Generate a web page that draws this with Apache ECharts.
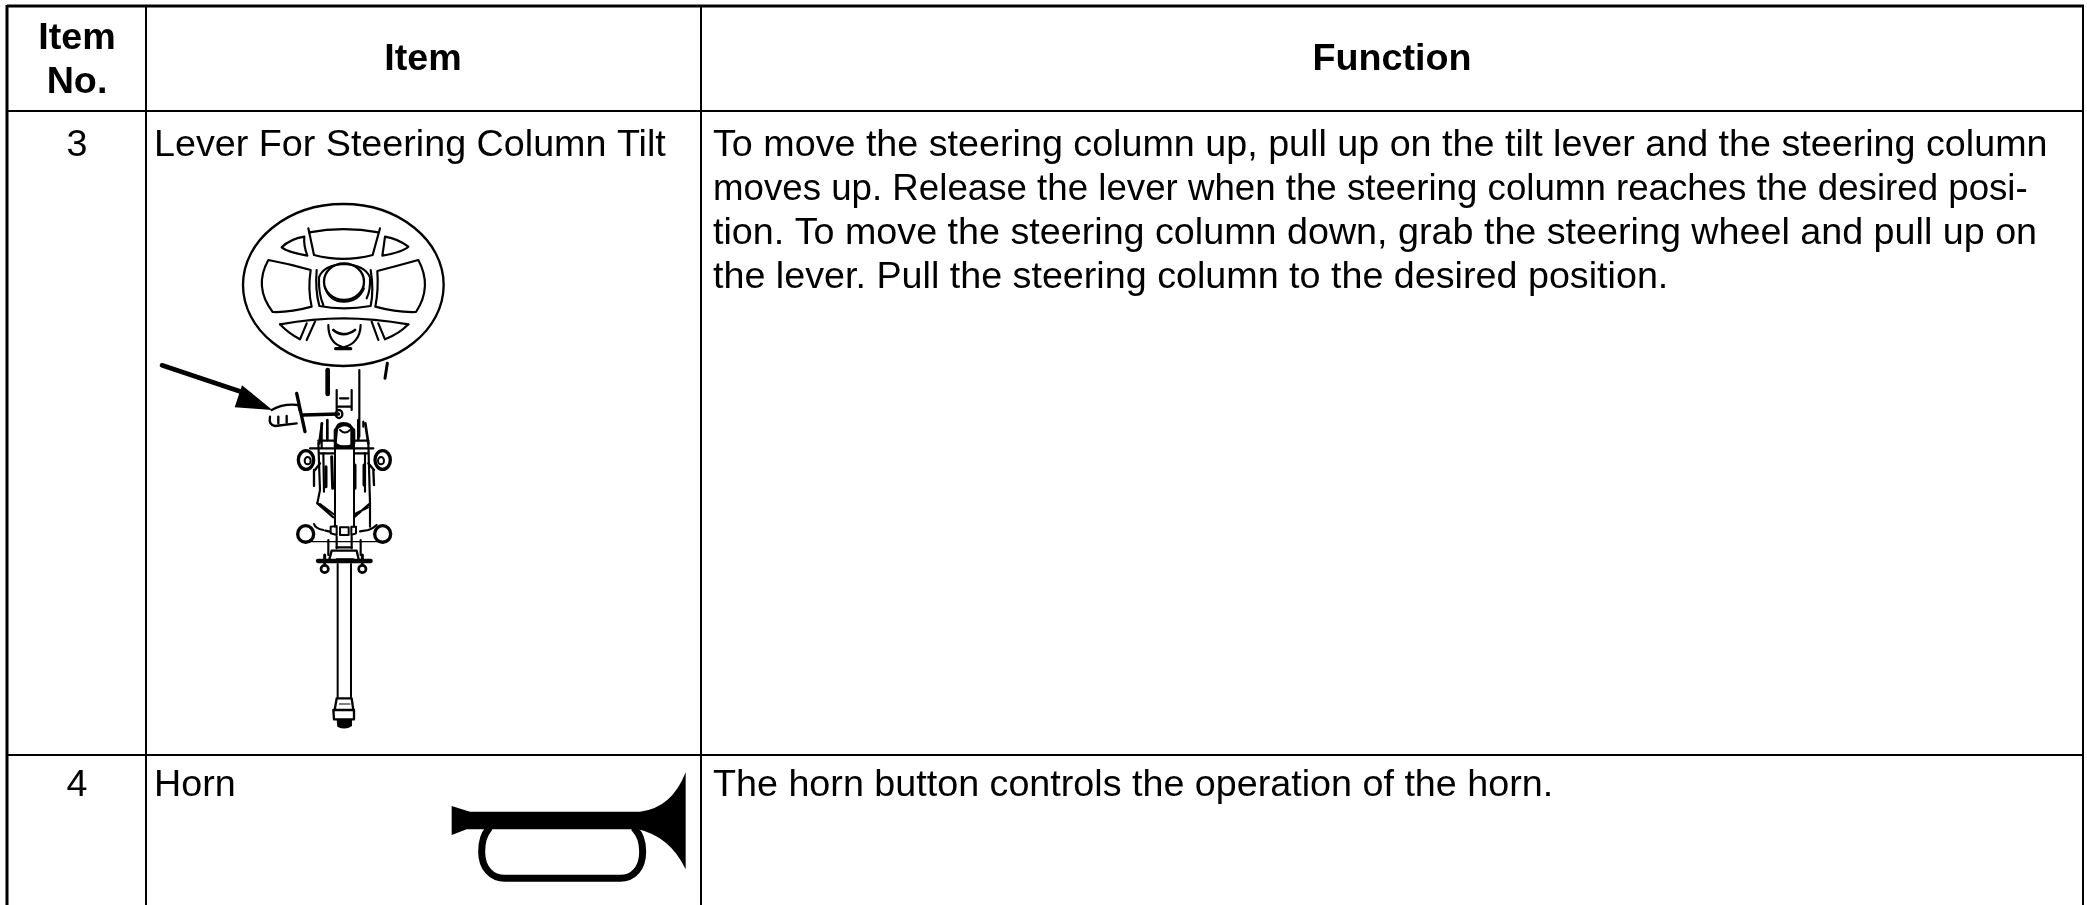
<!DOCTYPE html>
<html><head><meta charset="utf-8">
<style>html,body{margin:0;padding:0;background:#fff}#c{width:2087px;height:905px}</style>
<script src="https://cdn.jsdelivr.net/npm/echarts@6/dist/echarts.min.js"></script>
</head><body><div id="c"></div>
<script>
const headers = [["Item", "No."], ["Item"], ["Function"]];
const itemNos = ["3", "4"];
const itemNames = ["Lever For Steering Column Tilt", "Horn"];
const functionRow1 = [
  "To move the steering column up, pull up on the tilt lever and the steering column",
  "moves up. Release the lever when the steering column reaches the desired posi-",
  "tion. To move the steering column down, grab the steering wheel and pull up on",
  "the lever. Pull the steering column to the desired position."
];
const functionRow2 = ["The horn button controls the operation of the horn."];
const FONT = '"Liberation Sans", Arial, sans-serif';
const FS = 37.7;
const LINE_FIT = [1, 0.973, 1, 1];

function txt(s, x, y, align, bold, sx) {
  return {type:'text', x, y, scaleX:sx||1, silent:true, style:{text:s, fill:'#000', font:(bold?'bold ':'')+FS+'px '+FONT, textAlign:align, verticalAlign:'middle'}};
}
function ln(x1,y1,x2,y2,w){
  return {type:'line', silent:true, shape:{x1,y1,x2,y2}, style:{stroke:'#000', lineWidth:w}};
}
function p(d,w){ return {type:'path', silent:true, shape:{pathData:d}, style:{fill:null, stroke:'#000', lineWidth:w||6.5, lineJoin:'round', lineCap:'round'}}; }
function f(d){ return {type:'path', silent:true, shape:{pathData:d}, style:{fill:'#000', stroke:null}}; }
function el(cx,cy,rx,ry,w){ return {type:'ellipse', silent:true, shape:{cx,cy,rx,ry}, style:{fill:null, stroke:'#000', lineWidth:w||6.5}}; }
function group(x,y,children){ return {type:'group', x, y, scaleX:1/3, scaleY:1/3, silent:true, children}; }

const wheel = group(140,190,[
  el(610,285,301,243,7),
  p('M505,115 L522,195 Q610,218 698,195 L720,115'),
  p('M508,127 Q610,108 716,127'),
  p('M493,140 Q450,147 425,172 Q440,185 502,197 Q490,165 493,140 Z'),
  p('M735,140 Q775,147 805,170 Q790,185 727,197 Q732,165 735,140 Z'),
  p('M385,210 Q450,222 512,240 Q503,300 515,350 Q450,368 398,366 Q340,290 385,210 Z'),
  p('M835,210 Q770,228 712,243 Q716,300 706,350 Q770,368 828,366 Q878,290 835,210 Z'),
  el(612,275,60,55,7),
  p('M556,295 Q570,335 612,335 Q655,335 672,295',6),
  p('M537,262 Q550,225 612,222 Q675,225 690,262 Q692,300 680,325'),
  p('M537,262 Q535,310 550,345'),
  p('M530,240 Q525,300 538,348 Q610,362 692,348 Q702,300 692,240'),
  p('M420,403 Q520,385 610,385 Q700,385 805,403'),
  p('M420,403 Q445,430 480,448 L500,400'),
  p('M805,403 Q780,430 735,448 L715,400'),
  p('M500,450 L525,395'),
  p('M715,450 L695,395'),
  p('M565,405 Q565,460 610,472 Q660,460 662,405'),
  p('M580,420 Q610,445 645,420',8),
  p('M587,476 L632,476',10),
  p('M658,540 L658,740'),
  p('M563,540 L563,612',14),
  p('M742,520 L735,565',9),
  p('M590,600 L590,660 M635,600 L635,660 M600,625 L625,625 M595,650 L632,650'),
  p('M66,526 L330,614',14),
  f('M397,660 L306,586 L284,652 Z'),
  p('M395,660 Q430,640 475,645 L480,665 M390,680 Q385,705 405,708 L470,700',7),
  p('M470,610 L495,725',10),
  p('M490,675 L595,672',11),
  p('M415,680 L415,700 M440,678 L440,698',7),
  el(597,672,10,12,7),
  p('M590,720 Q590,700 610,700 Q635,700 635,720 L635,770 L585,770 Z',8),
  p('M545,700 L545,775 M670,695 L670,710 M510,775 L700,775')
]);

const column = group(240,420,[
  p('M246,10 L238,70 M376,10 L385,70 M262,0 L262,60 M355,0 L355,60',8),
  p('M285,30 Q315,0 342,30 L342,70 Q315,95 285,70 Z',8),
  p('M300,30 Q315,45 330,30',6),
  p('M235,62 L285,62 M342,62 L385,62 M238,100 L285,100 M342,100 L385,100'),
  p('M235,68 L240,210 L232,250 M385,68 L390,250 M390,250 L390,320 M250,100 L252,215 M375,100 L375,215'),
  p('M285,70 L285,320 M342,70 L342,320',6),
  el(198,120,23,28,10), el(428,120,23,28,10),
  el(203,122,9,11,6), el(423,122,9,11,6),
  el(197,342,24,25,10), el(428,342,24,25,10),
  p('M180,360 Q197,372 214,360 M411,360 Q428,372 445,360',7),
  p('M232,250 L280,292 M240,252 L280,282 M390,250 L342,292 M384,262 L345,282'),
  p('M258,140 L258,200 M275,110 L278,205 M345,135 L345,205 M372,135 L372,195',9),
  p('M222,150 L222,198 M400,150 L402,195 M240,130 L225,150 M385,130 L402,150',7),
  p('M222,312 Q226,326 250,330 M256,332 L270,335 M360,334 L385,330 Q400,325 410,315'),
  p('M272,340 L272,320 L290,318 L290,345 Z M334,320 L348,320 L348,340 L334,345 Z M300,322 L326,322 L326,345 L300,345 Z',6),
  p('M205,365 L425,365',4),
  p('M265,360 L265,405 M362,360 L362,405 M290,350 L290,385 M335,350 L335,385'),
  p('M275,392 L350,392 L356,418 M275,392 L268,418 M290,382 L335,382',7),
  p('M234,423 L392,423',13),
  p('M290,418 L340,418',6),
  el(254,447,11,11,8), el(367,447,11,11,8),
  p('M254,405 L254,430 M367,405 L367,430',9),
  p('M293,432 L293,835 M333,432 L333,835',6),
  p('M290,835 L335,835 L340,870 M290,835 L284,870',7),
  p('M280,870 L342,870 L342,898 L282,898 Z',7),
  p('M298,852 L330,852',3),
  f('M290,898 L336,898 L336,918 Q316,932 292,920 Z')
]);

const horn = group(420,740,[
  f('M95,198 L150,215 L660,215 Q755,205 797,97 L797,388 Q750,290 655,268 L140,268 L95,285 Z'),
  p('M205,268 C190,285 185,310 185,335 C185,385 215,415 255,415 L600,415 C640,415 668,385 668,335 C668,310 662,285 645,268',21)
]);

const gridLines = [
  ln(7,6,2084,6,3), ln(7,111,2084,111,2), ln(7,755,2084,755,2),
  ln(7,5,7,905,3), ln(146,6,146,905,2), ln(701,6,701,905,2), ln(2083,6,2083,905,2)
];

const texts = [
  txt(headers[0][0],77,39,'center',true), txt(headers[0][1],77,83,'center',true),
  txt(headers[1][0],423,60,'center',true), txt(headers[2][0],1392,60,'center',true),
  txt(itemNos[0],77,146,'center'), txt(itemNos[1],77,786,'center'),
  txt(itemNames[0],154,146,'left'), txt(itemNames[1],154,786,'left'),
  ...functionRow1.map((s,i)=>txt(s,713,146+44*i,'left',false,LINE_FIT[i])),
  txt(functionRow2[0],713,786,'left')
];

const chart = echarts.init(document.getElementById('c'),null,{renderer:'canvas'});
chart.setOption({
  animation:false,
  backgroundColor:'#fff',
  series:[{
    type:'custom', coordinateSystem:'none', silent:true, clip:false, data:[0],
    renderItem:()=>({type:'group',children:[...gridLines, wheel, column, horn, ...texts]})
  }]
});
</script></body></html>
